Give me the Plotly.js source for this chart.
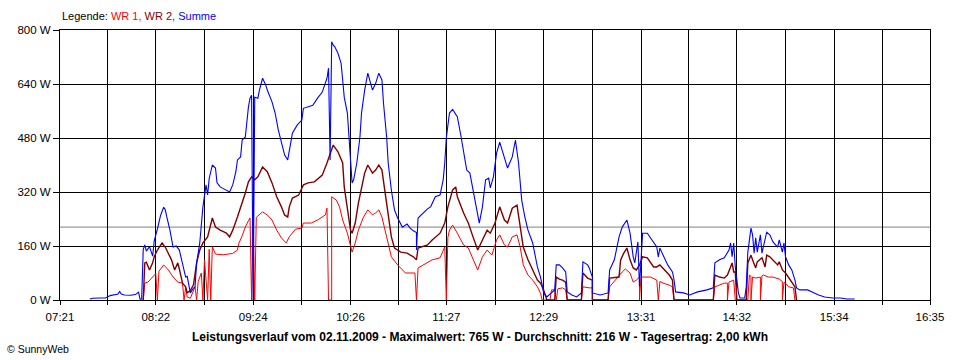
<!DOCTYPE html>
<html><head><meta charset="utf-8">
<script src="https://cdn.plot.ly/plotly-3.0.1.min.js"></script>
<style>html,body{margin:0;padding:0;background:#fff}#chart{width:960px;height:360px}</style>
</head><body><div id="chart"></div>
<script>
const xTickLabels = ["07:21","","08:22","","09:24","","10:26","","11:27","","12:29","","13:31","","14:32","","15:34","","16:35"];
const yTickValues = [0,160,320,480,640,800];
const yTickLabels = ["0 W","160 W","320 W","480 W","640 W","800 W"];
const averageW = 216;
const chartTitle = "Leistungsverlauf vom 02.11.2009 - Maximalwert: 765 W - Durchschnitt: 216 W - Tagesertrag: 2,00 kWh";

const wr1 = [["08:14",0],["08:15",50],["08:17",53],["08:20",68],["08:22",78],["08:23",0],["08:24",85],["08:27",104],["08:30",89],["08:33",68],["08:36",53],["08:39",50],["08:40",0],["08:41",36],["08:42",9],["08:44",5],["08:47",39],["08:48",0],["08:49",55],["08:51",80],["08:52",0],["08:53",119],["08:55",0],["08:56",150],["08:57",0],["08:58",158],["09:00",136],["09:05",134],["09:09",136],["09:11",138],["09:14",148],["09:15",169],["09:17",190],["09:19",216],["09:21",235],["09:22",243],["09:23",0],["09:24",243],["09:25",0],["09:26",245],["09:30",261],["09:33",252],["09:36",237],["09:39",207],["09:42",184],["09:45",169],["09:47",187],["09:51",210],["09:55",213],["09:56",228],["10:01",228],["10:05",237],["10:10",252],["10:11",272],["10:12",0],["10:14",0],["10:14",306],["10:17",296],["10:19",276],["10:21",237],["10:24",198],["10:26",154],["10:27",142],["10:29",169],["10:31",207],["10:34",243],["10:37",267],["10:40",252],["10:42",258],["10:44",267],["10:46",246],["10:49",187],["10:52",128],["10:56",104],["10:59",89],["11:01",80],["11:07",80],["11:08",0],["11:09",95],["11:15",110],["11:18",119],["11:23",125],["11:26",157],["11:27",0],["11:28",185],["11:29",207],["11:31",222],["11:34",198],["11:38",163],["11:41",154],["11:44",119],["11:47",89],["11:50",128],["11:53",148],["11:56",133],["11:59",178],["12:01",193],["12:04",163],["12:06",157],["12:09",187],["12:12",193],["12:14",157],["12:16",104],["12:19",74],["12:22",59],["12:25",39],["12:27",20],["12:28",0],["12:33",0],["12:34",30],["12:36",30],["12:37",0],["12:38",33],["12:41",36],["12:43",30],["12:44",0],["12:53",0],["12:54",39],["12:58",36],["13:00",36],["13:00",0],["13:10",0],["13:11",39],["13:16",68],["13:19",83],["13:21",92],["13:24",80],["13:26",53],["13:28",59],["13:30",68],["13:30",0],["13:31",68],["13:37",68],["13:41",59],["13:42",0],["13:43",55],["13:45",50],["13:49",44],["13:51",39],["13:52",0],["14:17",0],["14:18",39],["14:21",44],["14:24",50],["14:26",50],["14:26",0],["14:27",53],["14:30",59],["14:31",0],["14:39",0],["14:40",74],["14:41",70],["14:41",0],["14:42",68],["14:44",65],["14:47",68],["14:47",0],["14:48",72],["14:49",74],["14:52",68],["14:55",68],["14:59",62],["15:01",55],["15:01",0],["15:02",52],["15:03",50],["15:05",39],["15:08",36],["15:09",0]];

const wr2 = [["08:14",0],["08:15",110],["08:16",112],["08:18",89],["08:20",110],["08:21",128],["08:23",148],["08:26",169],["08:28",157],["08:30",139],["08:32",119],["08:34",89],["08:36",110],["08:37",92],["08:39",50],["08:41",39],["08:42",21],["08:44",28],["08:46",45],["08:48",110],["08:50",148],["08:52",169],["08:55",187],["08:58",243],["09:00",216],["09:03",207],["09:07",198],["09:09",187],["09:11",207],["09:14",246],["09:17",287],["09:19",317],["09:21",350],["09:23",365],["09:25",356],["09:27",365],["09:30",394],["09:33",380],["09:36",347],["09:39",306],["09:42",276],["09:44",252],["09:46",246],["09:47",276],["09:49",302],["09:53",311],["09:56",341],["09:59",347],["10:03",350],["10:08",370],["10:11",406],["10:13",430],["10:15",459],["10:18",439],["10:21",406],["10:22",335],["10:24",267],["10:26",207],["10:27",198],["10:29",228],["10:31",287],["10:33",335],["10:35",376],["10:37",400],["10:40",376],["10:42",385],["10:44",400],["10:46",385],["10:48",317],["10:50",246],["10:52",187],["10:54",154],["10:58",142],["11:02",139],["11:06",128],["11:08",119],["11:09",154],["11:15",163],["11:18",178],["11:23",198],["11:26",228],["11:28",276],["11:31",326],["11:33",335],["11:34",306],["11:38",258],["11:41",228],["11:44",187],["11:47",148],["11:50",178],["11:53",207],["11:55",198],["11:58",228],["12:01",276],["12:04",237],["12:06",228],["12:09",272],["12:12",281],["12:14",216],["12:16",157],["12:19",119],["12:22",89],["12:25",59],["12:27",50],["12:29",30],["12:31",0],["12:36",0],["12:37",68],["12:39",62],["12:41",59],["12:43",53],["12:44",0],["12:53",0],["12:54",80],["12:57",65],["13:00",59],["13:00",0],["13:10",0],["13:11",65],["13:17",68],["13:18",119],["13:20",139],["13:22",154],["13:24",119],["13:26",95],["13:28",89],["13:30",104],["13:32",128],["13:35",125],["13:39",98],["13:41",98],["13:43",104],["13:46",89],["13:49",74],["13:51",59],["13:52",0],["14:17",0],["14:18",74],["14:21",68],["14:24",65],["14:26",74],["14:29",110],["14:30",83],["14:31",83],["14:32",0],["14:38",0],["14:39",110],["14:41",133],["14:42",119],["14:44",95],["14:45",113],["14:48",125],["14:50",98],["14:51",133],["14:53",128],["14:55",119],["14:58",104],["14:59",113],["15:01",89],["15:03",80],["15:05",65],["15:07",53],["15:09",39],["15:10",0]];

const summe = [["07:40",3],["07:42",5],["07:46",6],["07:50",6],["07:53",13],["07:56",15],["07:58",18],["07:59",25],["08:00",18],["08:02",15],["08:06",14],["08:09",16],["08:11",23],["08:12",2],["08:13",3],["08:14",150],["08:15",163],["08:16",145],["08:18",158],["08:20",130],["08:21",175],["08:23",210],["08:25",250],["08:27",275],["08:28",268],["08:29",246],["08:31",207],["08:33",157],["08:35",160],["08:37",148],["08:39",110],["08:41",68],["08:42",70],["08:44",21],["08:46",35],["08:47",39],["08:48",110],["08:50",169],["08:52",276],["08:54",341],["08:55",311],["08:56",360],["08:58",400],["09:00",391],["09:01",347],["09:03",335],["09:05",330],["09:07",326],["09:09",320],["09:11",341],["09:13",380],["09:14",415],["09:16",424],["09:17",474],["09:19",483],["09:21",572],["09:22",598],["09:23",607],["09:24",0],["09:25",601],["09:27",598],["09:28",622],["09:30",657],["09:32",637],["09:33",622],["09:36",587],["09:38",554],["09:40",504],["09:42",465],["09:44",430],["09:46",415],["09:47",444],["09:49",494],["09:52",518],["09:55",533],["09:56",568],["09:59",572],["10:02",577],["10:05",598],["10:08",616],["10:11",657],["10:12",687],["10:13",415],["10:14",765],["10:15",755],["10:16",750],["10:18",731],["10:20",701],["10:21",652],["10:22",601],["10:24",554],["10:25",483],["10:26",406],["10:27",347],["10:28",356],["10:30",406],["10:32",483],["10:33",554],["10:35",622],["10:37",672],["10:40",622],["10:42",642],["10:44",672],["10:46",652],["10:47",583],["10:49",483],["10:50",406],["10:52",326],["10:54",267],["10:56",243],["10:59",216],["11:02",225],["11:04",213],["11:06",205],["11:08",200],["11:08",148],["11:09",243],["11:12",258],["11:15",270],["11:17",276],["11:20",306],["11:23",311],["11:25",356],["11:26",406],["11:27",480],["11:29",554],["11:31",565],["11:33",550],["11:34",543],["11:36",494],["11:38",435],["11:40",385],["11:42",376],["11:44",326],["11:47",246],["11:48",228],["11:50",276],["11:52",356],["11:54",361],["11:55",332],["11:57",365],["11:59",435],["12:01",468],["12:03",435],["12:06",391],["12:09",424],["12:11",474],["12:13",406],["12:15",296],["12:17",246],["12:19",207],["12:22",169],["12:23",148],["12:25",98],["12:27",68],["12:29",21],["12:31",9],["12:34",21],["12:36",30],["12:37",104],["12:39",104],["12:41",95],["12:43",83],["12:44",24],["12:47",15],["12:50",9],["12:53",21],["12:54",113],["12:57",104],["12:58",95],["13:00",68],["13:00",21],["13:05",15],["13:10",21],["13:11",89],["13:14",119],["13:17",187],["13:19",216],["13:22",237],["13:24",198],["13:26",128],["13:27",110],["13:28",139],["13:29",172],["13:30",40],["13:32",198],["13:35",198],["13:38",178],["13:41",157],["13:42",128],["13:43",154],["13:45",133],["13:48",104],["13:51",83],["13:52",60],["13:53",24],["13:58",21],["14:02",15],["14:07",24],["14:13",30],["14:17",36],["14:18",110],["14:21",119],["14:24",125],["14:27",148],["14:28",169],["14:29",128],["14:30",169],["14:31",98],["14:33",21],["14:34",6],["14:37",6],["14:38",39],["14:39",142],["14:41",213],["14:42",193],["14:43",139],["14:44",184],["14:45",142],["14:47",193],["14:48",139],["14:51",201],["14:53",193],["14:55",172],["14:58",157],["14:59",178],["15:01",142],["15:02",169],["15:03",128],["15:05",104],["15:07",89],["15:09",59],["15:10",36],["15:12",30],["15:17",30],["15:20",24],["15:24",15],["15:28",9],["15:33",6],["15:38",6],["15:42",3],["15:47",3]];

function toMin(s){const p=s.split(":");return (+p[0])*60+(+p[1]);}
function series(d,name,color,w){
  return {x:d.map(r=>toMin(r[0])),y:d.map(r=>r[1]),type:"scatter",mode:"lines",name:name,
    line:{color:color,width:w},hoverinfo:"skip"};
}
// tick positions: labelled ticks from their labels, unlabelled ones halfway between
const tickVals = xTickLabels.map((l,i)=> l ? toMin(l) : (toMin(xTickLabels[i-1])+toMin(xTickLabels[i+1]))/2);
const xRange = [tickVals[0], tickVals[tickVals.length-1]];

const traces = [series(wr1,"WR 1","#ff0000",1), series(wr2,"WR 2","#800000",1.4), series(summe,"Summe","#0000ff",1.1)];
const tickFont = {family:"Liberation Sans, Arial, sans-serif", size:11.5, color:"#000"};
const layout = {
  width:960,height:360,margin:{l:60,r:30,t:30,b:60},
  paper_bgcolor:"#fff",plot_bgcolor:"#fff",showlegend:false,
  xaxis:{type:"linear",range:xRange,tickmode:"array",tickvals:tickVals,ticktext:xTickLabels,
    showgrid:true,gridcolor:"#000",gridwidth:1,zeroline:false,showline:true,linecolor:"#000",linewidth:1,mirror:true,
    ticks:"outside",ticklen:4,tickcolor:"#000",tickfont:tickFont,ticklabelstandoff:2,layer:"above traces",fixedrange:true},
  yaxis:{range:[yTickValues[0],yTickValues[yTickValues.length-1]],tickmode:"array",tickvals:yTickValues,ticktext:yTickLabels,
    showgrid:true,gridcolor:"#000",gridwidth:1,zeroline:false,showline:true,linecolor:"#000",linewidth:1,mirror:true,
    ticks:"outside",ticklen:6,tickcolor:"#000",tickfont:tickFont,layer:"above traces",fixedrange:true},
  shapes:[{type:"line",xref:"paper",x0:0,x1:1,yref:"y",y0:averageW,y1:averageW,line:{color:"#808080",width:1},layer:"below"}],
  annotations:[
    {xref:"paper",yref:"paper",x:0,y:1,xanchor:"left",yanchor:"bottom",yshift:6,showarrow:false,
     text:'Legende: <span style="color:#ff0000">WR 1,</span> <span style="color:#800000">WR 2,</span> <span style="color:#0000ff">Summe</span>',
     font:{family:"Liberation Sans, Arial, sans-serif",size:11,color:"#000"}},
    {xref:"paper",yref:"paper",x:(480-60)/870,y:0,xanchor:"center",yanchor:"middle",yshift:-37,showarrow:false,
     text:"<b>"+chartTitle+"</b>",font:{family:"Liberation Sans, Arial, sans-serif",size:12,color:"#000"}},
    {xref:"paper",yref:"paper",x:(5-60)/870,y:0,xanchor:"left",yanchor:"middle",yshift:-49,showarrow:false,
     text:"© SunnyWeb",font:{family:"Liberation Sans, Arial, sans-serif",size:10.5,color:"#000"}}
  ]
};
Plotly.newPlot("chart",traces,layout,{staticPlot:true,displayModeBar:false});
</script></body></html>
